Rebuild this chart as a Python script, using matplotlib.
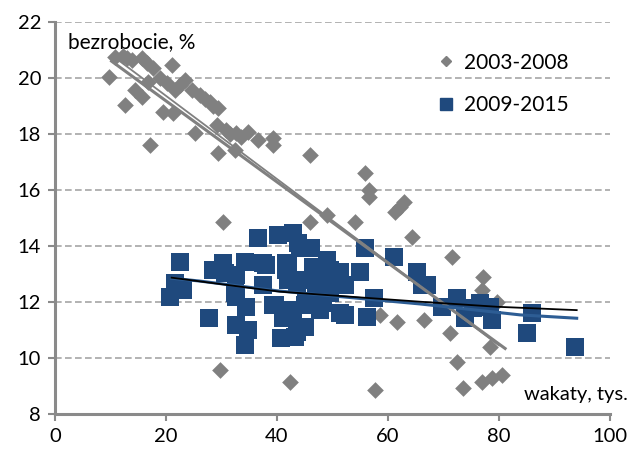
import matplotlib
matplotlib.use("Agg")
import matplotlib.pyplot as plt
from matplotlib.lines import Line2D

plt.rcParams['font.family'] = ['Lato', 'DejaVu Sans']

# 2003-2008 (gray diamonds): vacancies (thousands), unemployment (%)
x_0308 = [9.8, 10.8, 12.3, 13.8, 15.6, 17.7, 21.0, 14.4, 15.6, 12.6, 16.8, 20.1,
          19.5, 21.3, 23.4, 21.6, 24.6, 26.1, 27.9, 29.4, 29.1, 30.9, 25.2, 17.1,
          29.4, 32.4, 32.7, 34.8, 36.6, 39.3, 39.3, 45.9, 55.9, 56.5, 56.5, 62.2,
          62.8, 61.3, 49.0, 45.9, 54.1, 64.3, 30.3, 58.6, 61.6, 66.4, 42.3, 57.7,
          29.7, 71.5, 77.2, 76.9, 79.6, 71.2, 78.4, 72.4, 73.6, 76.9, 78.7, 80.5,
          13.0, 16.5, 19.0, 22.5, 27.0, 28.5, 31.5, 33.5]
y_0308 = [20.05, 20.76, 20.8, 20.64, 20.7, 20.35, 20.46, 19.57, 19.33, 19.04, 19.87, 19.81,
          18.8, 18.74, 19.93, 19.57, 19.57, 19.39, 19.15, 18.92, 18.32, 18.14, 18.02, 17.6,
          17.31, 17.43, 18.02, 18.08, 17.79, 17.85, 17.6, 17.25, 16.6, 16.0, 15.76, 15.4,
          15.58, 15.22, 15.1, 14.87, 14.87, 14.33, 14.85, 11.54, 11.3, 11.36, 9.15, 8.86,
          9.57, 13.62, 12.9, 12.43, 12.0, 10.88, 10.4, 9.87, 8.92, 9.15, 9.27, 9.39,
          20.7, 20.55, 20.0, 19.75, 19.25, 19.0, 18.0, 17.9]

# 2009-2015 (blue squares)
x_0915 = [22.6, 21.6, 23.0, 20.8, 27.8, 28.4, 30.2, 30.6, 32.7, 34.2, 36.6, 40.2,
          38.1, 37.4, 32.7, 34.5, 32.7, 34.8, 34.2, 39.3, 40.8, 41.7, 41.1, 42.9,
          41.7, 44.1, 46.2, 46.5, 44.1, 42.0, 51.0, 55.0, 55.9, 61.0, 65.2, 66.1,
          52.3, 49.5, 57.4, 52.3, 56.2, 42.9, 45.0, 47.7, 45.0, 43.2, 47.1, 48.3,
          49.0, 43.8, 67.0, 72.4, 69.7, 73.9, 75.4, 78.4, 78.7, 85.9, 85.0, 93.7,
          76.6, 37.5, 42.0, 49.5, 51.3, 21.6, 32.4, 39.6, 45.3, 48.3, 51.3, 43.6,
          47.1, 50.7, 43.6, 42.9]
y_0915 = [13.44, 12.67, 12.43, 12.17, 11.44, 13.14, 13.38, 13.02, 12.96, 13.44, 14.27, 14.39,
          13.32, 12.6, 12.19, 11.83, 11.18, 11.0, 10.46, 11.89, 10.7, 13.14, 11.42, 14.45,
          13.38, 13.92, 13.92, 13.26, 12.79, 12.79, 13.08, 13.08, 13.92, 13.62, 13.08, 12.6,
          12.6, 12.31, 12.13, 11.54, 11.48, 11.71, 11.89, 11.71, 11.12, 10.76, 12.31, 12.67,
          13.5, 14.1, 12.6, 12.13, 11.83, 11.42, 11.78, 11.83, 11.36, 11.6, 10.88, 10.4,
          11.95, 13.38, 13.32, 13.14, 13.08, 12.55, 12.31, 11.89, 12.0, 11.95, 11.6, 12.67,
          12.79, 12.67, 10.94, 11.54]

# trend lines
trend_gray1_x = [10.2, 81.1]
trend_gray1_y = [20.6, 10.34]
trend_gray2_x = [11.0, 80.0]
trend_gray2_y = [20.7, 10.45]
trend_black_x = [21, 33.3, 40.5, 65.8, 79.6, 94]
trend_black_y = [12.87, 12.55, 12.37, 12.01, 11.83, 11.71]
trend_blue_x = [21, 26, 40, 65.8, 83.8, 94]
trend_blue_y = [12.85, 12.75, 12.4, 11.93, 11.54, 11.42]

GRAY = '#808080'
BLUE = '#1f497d'

fig = plt.figure(figsize=(6.3, 4.51), dpi=100)
ax = fig.add_axes([55 / 630, 1 - 414 / 451, 555 / 630, 392 / 451])

ax.scatter(x_0308, y_0308, marker='D', s=8.5 ** 2, color=GRAY, linewidths=0, zorder=3)
ax.scatter(x_0915, y_0915, marker='s', s=13 ** 2, color=BLUE, linewidths=0, zorder=3)

ax.plot(trend_gray1_x, trend_gray1_y, color=GRAY, lw=2.2, zorder=4)
ax.plot(trend_gray2_x, trend_gray2_y, color=GRAY, lw=1.3, zorder=4)
ax.plot(trend_blue_x, trend_blue_y, color='#2d5d94', lw=2.2, zorder=4)
ax.plot(trend_black_x, trend_black_y, color='black', lw=1.3, zorder=5)

ax.set_xlim(0, 100)
ax.set_ylim(8, 22)
ax.set_xticks(range(0, 101, 20))
ax.set_yticks(range(8, 23, 2))
ax.yaxis.grid(True, color='#a6a6a6', linestyle=(0, (4, 2)), lw=1.2)
ax.set_axisbelow(True)

for side in ['top', 'right']:
    ax.spines[side].set_visible(False)
for side in ['left', 'bottom']:
    ax.spines[side].set_color('#8a8a8a')
    ax.spines[side].set_linewidth(2.2)
ax.tick_params(axis='both', direction='out', length=5, width=1.5, color='#8a8a8a',
               labelsize=14.5, pad=5)

ax.text(0.023, 0.975, 'bezrobocie, %', transform=ax.transAxes, fontsize=15,
        ha='left', va='top')
ax.text(1.032, 0.05, 'wakaty, tys.', transform=ax.transAxes, fontsize=14.5,
        ha='right', va='center', clip_on=False)

handles = [Line2D([], [], marker='D', color=GRAY, linestyle='none', markersize=5),
           Line2D([], [], marker='s', color=BLUE, linestyle='none', markersize=8)]
ax.legend(handles, ['2003-2008', '2009-2015'], loc='upper left',
          bbox_to_anchor=(0.652, 0.97), frameon=False, fontsize=15,
          labelspacing=1.1, handletextpad=0.35, handlelength=1.0)

fig.savefig('out.png', dpi=100)
